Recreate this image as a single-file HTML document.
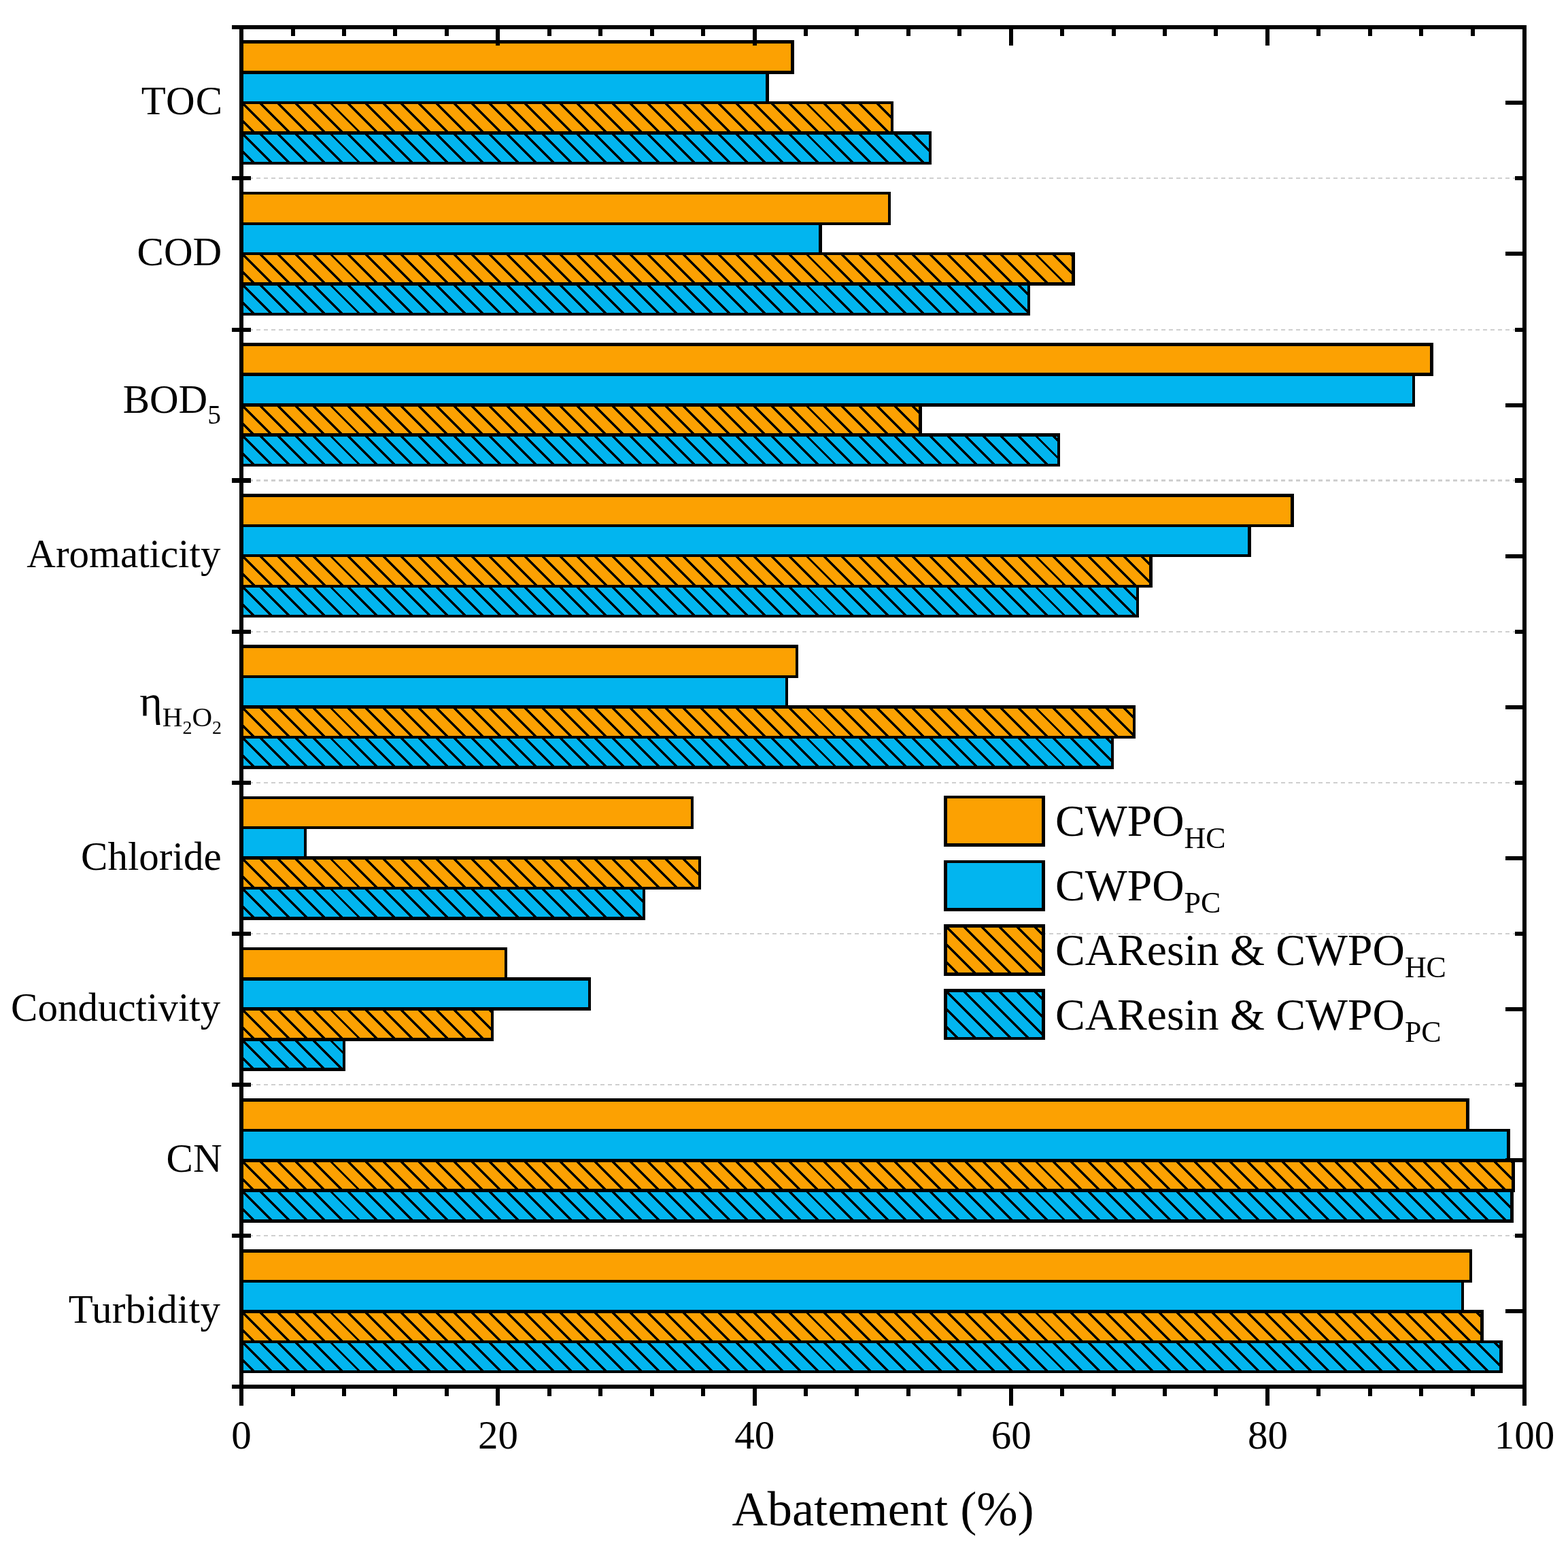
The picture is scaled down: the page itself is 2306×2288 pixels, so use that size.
<!DOCTYPE html>
<html lang="en"><head><meta charset="utf-8"><title>Abatement (%)</title>
<style>html,body{margin:0;padding:0;background:#fff}body{width:2306px;height:2288px;overflow:hidden}svg{display:block}text{font-family:"Liberation Serif","Times New Roman",serif;fill:#000}</style>
</head><body>
<svg width="2306" height="2288" viewBox="0 0 2306 2288">
<rect width="2306" height="2288" fill="#fff"/>
<g shape-rendering="crispEdges" stroke="#CFCFCF" stroke-dasharray="6 5">
<line x1="355" y1="262" x2="2239" y2="262" stroke-width="2"/>
<line x1="355" y1="485" x2="2239" y2="485" stroke-width="2"/>
<line x1="355" y1="706.5" x2="2239" y2="706.5" stroke-width="3"/>
<line x1="355" y1="929" x2="2239" y2="929" stroke-width="2"/>
<line x1="355" y1="1151" x2="2239" y2="1151" stroke-width="2"/>
<line x1="355" y1="1373" x2="2239" y2="1373" stroke-width="2"/>
<line x1="355" y1="1595" x2="2239" y2="1595" stroke-width="2"/>
<line x1="355" y1="1817" x2="2239" y2="1817" stroke-width="2"/>
</g>
<g shape-rendering="crispEdges">
<rect x="355" y="59" width="813" height="50" fill="#000"/>
<rect x="355" y="64" width="808" height="40" fill="#FCA102"/>
<rect x="355" y="104" width="776" height="49" fill="#000"/>
<rect x="355" y="109" width="771" height="40" fill="#02B5EF"/>
<rect x="355" y="149" width="959" height="49" fill="#000"/>
<rect x="355" y="153" width="955" height="40" fill="#FCA102"/>
<clipPath id="c1"><rect x="355" y="153" width="955" height="40"/></clipPath>
<path clip-path="url(#c1)" d="M300.02 147L352.02 199M325.95 147L377.95 199M351.88 147L403.88 199M377.8 147L429.8 199M403.73 147L455.73 199M429.65 147L481.65 199M455.58 147L507.58 199M481.5 147L533.5 199M507.42 147L559.42 199M533.35 147L585.35 199M559.27 147L611.27 199M585.2 147L637.2 199M611.12 147L663.12 199M637.05 147L689.05 199M662.98 147L714.98 199M688.9 147L740.9 199M714.83 147L766.83 199M740.75 147L792.75 199M766.67 147L818.67 199M792.6 147L844.6 199M818.53 147L870.53 199M844.45 147L896.45 199M870.38 147L922.38 199M896.3 147L948.3 199M922.23 147L974.23 199M948.15 147L1000.15 199M974.08 147L1026.08 199M1000 147L1052 199M1025.92 147L1077.92 199M1051.85 147L1103.85 199M1077.78 147L1129.78 199M1103.7 147L1155.7 199M1129.62 147L1181.62 199M1155.55 147L1207.55 199M1181.48 147L1233.48 199M1207.4 147L1259.4 199M1233.33 147L1285.33 199M1259.25 147L1311.25 199M1285.17 147L1337.17 199M1311.1 147L1363.1 199" stroke="#000" stroke-width="3.5" fill="none" shape-rendering="crispEdges"/>
<rect x="355" y="193" width="1015" height="49" fill="#000"/>
<rect x="355" y="198" width="1011" height="40" fill="#02B5EF"/>
<clipPath id="c2"><rect x="355" y="198" width="1011" height="40"/></clipPath>
<path clip-path="url(#c2)" d="M300.02 192L352.02 244M325.95 192L377.95 244M351.88 192L403.88 244M377.8 192L429.8 244M403.73 192L455.73 244M429.65 192L481.65 244M455.58 192L507.58 244M481.5 192L533.5 244M507.42 192L559.42 244M533.35 192L585.35 244M559.27 192L611.27 244M585.2 192L637.2 244M611.12 192L663.12 244M637.05 192L689.05 244M662.98 192L714.98 244M688.9 192L740.9 244M714.83 192L766.83 244M740.75 192L792.75 244M766.67 192L818.67 244M792.6 192L844.6 244M818.53 192L870.53 244M844.45 192L896.45 244M870.38 192L922.38 244M896.3 192L948.3 244M922.23 192L974.23 244M948.15 192L1000.15 244M974.08 192L1026.08 244M1000 192L1052 244M1025.92 192L1077.92 244M1051.85 192L1103.85 244M1077.78 192L1129.78 244M1103.7 192L1155.7 244M1129.62 192L1181.62 244M1155.55 192L1207.55 244M1181.48 192L1233.48 244M1207.4 192L1259.4 244M1233.33 192L1285.33 244M1259.25 192L1311.25 244M1285.17 192L1337.17 244M1311.1 192L1363.1 244M1337.03 192L1389.03 244M1362.95 192L1414.95 244" stroke="#000" stroke-width="3.5" fill="none" shape-rendering="crispEdges"/>
<rect x="355" y="282" width="955" height="49" fill="#000"/>
<rect x="355" y="286" width="951" height="41" fill="#FCA102"/>
<rect x="355" y="327" width="854" height="48" fill="#000"/>
<rect x="355" y="331" width="849" height="40" fill="#02B5EF"/>
<rect x="355" y="371" width="1226" height="49" fill="#000"/>
<rect x="355" y="375" width="1221" height="40" fill="#FCA102"/>
<clipPath id="c3"><rect x="355" y="375" width="1221" height="40"/></clipPath>
<path clip-path="url(#c3)" d="M300.02 369L352.02 421M325.95 369L377.95 421M351.88 369L403.88 421M377.8 369L429.8 421M403.73 369L455.73 421M429.65 369L481.65 421M455.58 369L507.58 421M481.5 369L533.5 421M507.42 369L559.42 421M533.35 369L585.35 421M559.27 369L611.27 421M585.2 369L637.2 421M611.12 369L663.12 421M637.05 369L689.05 421M662.98 369L714.98 421M688.9 369L740.9 421M714.83 369L766.83 421M740.75 369L792.75 421M766.67 369L818.67 421M792.6 369L844.6 421M818.53 369L870.53 421M844.45 369L896.45 421M870.38 369L922.38 421M896.3 369L948.3 421M922.23 369L974.23 421M948.15 369L1000.15 421M974.08 369L1026.08 421M1000 369L1052 421M1025.92 369L1077.92 421M1051.85 369L1103.85 421M1077.78 369L1129.78 421M1103.7 369L1155.7 421M1129.62 369L1181.62 421M1155.55 369L1207.55 421M1181.48 369L1233.48 421M1207.4 369L1259.4 421M1233.33 369L1285.33 421M1259.25 369L1311.25 421M1285.17 369L1337.17 421M1311.1 369L1363.1 421M1337.03 369L1389.03 421M1362.95 369L1414.95 421M1388.88 369L1440.88 421M1414.8 369L1466.8 421M1440.72 369L1492.72 421M1466.65 369L1518.65 421M1492.58 369L1544.58 421M1518.5 369L1570.5 421M1544.42 369L1596.42 421M1570.35 369L1622.35 421" stroke="#000" stroke-width="3.5" fill="none" shape-rendering="crispEdges"/>
<rect x="355" y="415" width="1160" height="49" fill="#000"/>
<rect x="355" y="420" width="1156" height="40" fill="#02B5EF"/>
<clipPath id="c4"><rect x="355" y="420" width="1156" height="40"/></clipPath>
<path clip-path="url(#c4)" d="M300.02 414L352.02 466M325.95 414L377.95 466M351.88 414L403.88 466M377.8 414L429.8 466M403.73 414L455.73 466M429.65 414L481.65 466M455.58 414L507.58 466M481.5 414L533.5 466M507.42 414L559.42 466M533.35 414L585.35 466M559.27 414L611.27 466M585.2 414L637.2 466M611.12 414L663.12 466M637.05 414L689.05 466M662.98 414L714.98 466M688.9 414L740.9 466M714.83 414L766.83 466M740.75 414L792.75 466M766.67 414L818.67 466M792.6 414L844.6 466M818.53 414L870.53 466M844.45 414L896.45 466M870.38 414L922.38 466M896.3 414L948.3 466M922.23 414L974.23 466M948.15 414L1000.15 466M974.08 414L1026.08 466M1000 414L1052 466M1025.92 414L1077.92 466M1051.85 414L1103.85 466M1077.78 414L1129.78 466M1103.7 414L1155.7 466M1129.62 414L1181.62 466M1155.55 414L1207.55 466M1181.48 414L1233.48 466M1207.4 414L1259.4 466M1233.33 414L1285.33 466M1259.25 414L1311.25 466M1285.17 414L1337.17 466M1311.1 414L1363.1 466M1337.03 414L1389.03 466M1362.95 414L1414.95 466M1388.88 414L1440.88 466M1414.8 414L1466.8 466M1440.72 414L1492.72 466M1466.65 414L1518.65 466M1492.58 414L1544.58 466" stroke="#000" stroke-width="3.5" fill="none" shape-rendering="crispEdges"/>
<rect x="355" y="504" width="1753" height="49" fill="#000"/>
<rect x="355" y="509" width="1748" height="39" fill="#FCA102"/>
<rect x="355" y="548" width="1726" height="50" fill="#000"/>
<rect x="355" y="553" width="1722" height="40" fill="#02B5EF"/>
<rect x="355" y="593" width="1001" height="49" fill="#000"/>
<rect x="355" y="598" width="996" height="39" fill="#FCA102"/>
<clipPath id="c5"><rect x="355" y="598" width="996" height="39"/></clipPath>
<path clip-path="url(#c5)" d="M300.02 592L351.02 643M325.95 592L376.95 643M351.88 592L402.88 643M377.8 592L428.8 643M403.73 592L454.73 643M429.65 592L480.65 643M455.58 592L506.58 643M481.5 592L532.5 643M507.42 592L558.42 643M533.35 592L584.35 643M559.27 592L610.27 643M585.2 592L636.2 643M611.12 592L662.12 643M637.05 592L688.05 643M662.98 592L713.98 643M688.9 592L739.9 643M714.83 592L765.83 643M740.75 592L791.75 643M766.67 592L817.67 643M792.6 592L843.6 643M818.53 592L869.53 643M844.45 592L895.45 643M870.38 592L921.38 643M896.3 592L947.3 643M922.23 592L973.23 643M948.15 592L999.15 643M974.08 592L1025.08 643M1000 592L1051 643M1025.92 592L1076.92 643M1051.85 592L1102.85 643M1077.78 592L1128.78 643M1103.7 592L1154.7 643M1129.62 592L1180.62 643M1155.55 592L1206.55 643M1181.48 592L1232.48 643M1207.4 592L1258.4 643M1233.33 592L1284.33 643M1259.25 592L1310.25 643M1285.17 592L1336.17 643M1311.1 592L1362.1 643M1337.03 592L1388.03 643" stroke="#000" stroke-width="3.5" fill="none" shape-rendering="crispEdges"/>
<rect x="355" y="637" width="1204" height="49" fill="#000"/>
<rect x="355" y="642" width="1200" height="40" fill="#02B5EF"/>
<clipPath id="c6"><rect x="355" y="642" width="1200" height="40"/></clipPath>
<path clip-path="url(#c6)" d="M300.02 636L352.02 688M325.95 636L377.95 688M351.88 636L403.88 688M377.8 636L429.8 688M403.73 636L455.73 688M429.65 636L481.65 688M455.58 636L507.58 688M481.5 636L533.5 688M507.42 636L559.42 688M533.35 636L585.35 688M559.27 636L611.27 688M585.2 636L637.2 688M611.12 636L663.12 688M637.05 636L689.05 688M662.98 636L714.98 688M688.9 636L740.9 688M714.83 636L766.83 688M740.75 636L792.75 688M766.67 636L818.67 688M792.6 636L844.6 688M818.53 636L870.53 688M844.45 636L896.45 688M870.38 636L922.38 688M896.3 636L948.3 688M922.23 636L974.23 688M948.15 636L1000.15 688M974.08 636L1026.08 688M1000 636L1052 688M1025.92 636L1077.92 688M1051.85 636L1103.85 688M1077.78 636L1129.78 688M1103.7 636L1155.7 688M1129.62 636L1181.62 688M1155.55 636L1207.55 688M1181.48 636L1233.48 688M1207.4 636L1259.4 688M1233.33 636L1285.33 688M1259.25 636L1311.25 688M1285.17 636L1337.17 688M1311.1 636L1363.1 688M1337.03 636L1389.03 688M1362.95 636L1414.95 688M1388.88 636L1440.88 688M1414.8 636L1466.8 688M1440.72 636L1492.72 688M1466.65 636L1518.65 688M1492.58 636L1544.58 688M1518.5 636L1570.5 688M1544.42 636L1596.42 688" stroke="#000" stroke-width="3.5" fill="none" shape-rendering="crispEdges"/>
<rect x="355" y="726" width="1548" height="49" fill="#000"/>
<rect x="355" y="731" width="1543" height="40" fill="#FCA102"/>
<rect x="355" y="771" width="1485" height="48" fill="#000"/>
<rect x="355" y="775" width="1480" height="40" fill="#02B5EF"/>
<rect x="355" y="815" width="1340" height="49" fill="#000"/>
<rect x="355" y="819" width="1335" height="41" fill="#FCA102"/>
<clipPath id="c7"><rect x="355" y="819" width="1335" height="41"/></clipPath>
<path clip-path="url(#c7)" d="M300.02 813L353.02 866M325.95 813L378.95 866M351.88 813L404.88 866M377.8 813L430.8 866M403.73 813L456.73 866M429.65 813L482.65 866M455.58 813L508.58 866M481.5 813L534.5 866M507.42 813L560.42 866M533.35 813L586.35 866M559.27 813L612.27 866M585.2 813L638.2 866M611.12 813L664.12 866M637.05 813L690.05 866M662.98 813L715.98 866M688.9 813L741.9 866M714.83 813L767.83 866M740.75 813L793.75 866M766.67 813L819.67 866M792.6 813L845.6 866M818.53 813L871.53 866M844.45 813L897.45 866M870.38 813L923.38 866M896.3 813L949.3 866M922.23 813L975.23 866M948.15 813L1001.15 866M974.08 813L1027.08 866M1000 813L1053 866M1025.92 813L1078.92 866M1051.85 813L1104.85 866M1077.78 813L1130.78 866M1103.7 813L1156.7 866M1129.62 813L1182.62 866M1155.55 813L1208.55 866M1181.48 813L1234.48 866M1207.4 813L1260.4 866M1233.33 813L1286.33 866M1259.25 813L1312.25 866M1285.17 813L1338.17 866M1311.1 813L1364.1 866M1337.03 813L1390.03 866M1362.95 813L1415.95 866M1388.88 813L1441.88 866M1414.8 813L1467.8 866M1440.72 813L1493.72 866M1466.65 813L1519.65 866M1492.58 813L1545.58 866M1518.5 813L1571.5 866M1544.42 813L1597.42 866M1570.35 813L1623.35 866M1596.28 813L1649.28 866M1622.2 813L1675.2 866M1648.12 813L1701.12 866M1674.05 813L1727.05 866" stroke="#000" stroke-width="3.5" fill="none" shape-rendering="crispEdges"/>
<rect x="355" y="860" width="1320" height="48" fill="#000"/>
<rect x="355" y="864" width="1316" height="40" fill="#02B5EF"/>
<clipPath id="c8"><rect x="355" y="864" width="1316" height="40"/></clipPath>
<path clip-path="url(#c8)" d="M300.02 858L352.02 910M325.95 858L377.95 910M351.88 858L403.88 910M377.8 858L429.8 910M403.73 858L455.73 910M429.65 858L481.65 910M455.58 858L507.58 910M481.5 858L533.5 910M507.42 858L559.42 910M533.35 858L585.35 910M559.27 858L611.27 910M585.2 858L637.2 910M611.12 858L663.12 910M637.05 858L689.05 910M662.98 858L714.98 910M688.9 858L740.9 910M714.83 858L766.83 910M740.75 858L792.75 910M766.67 858L818.67 910M792.6 858L844.6 910M818.53 858L870.53 910M844.45 858L896.45 910M870.38 858L922.38 910M896.3 858L948.3 910M922.23 858L974.23 910M948.15 858L1000.15 910M974.08 858L1026.08 910M1000 858L1052 910M1025.92 858L1077.92 910M1051.85 858L1103.85 910M1077.78 858L1129.78 910M1103.7 858L1155.7 910M1129.62 858L1181.62 910M1155.55 858L1207.55 910M1181.48 858L1233.48 910M1207.4 858L1259.4 910M1233.33 858L1285.33 910M1259.25 858L1311.25 910M1285.17 858L1337.17 910M1311.1 858L1363.1 910M1337.03 858L1389.03 910M1362.95 858L1414.95 910M1388.88 858L1440.88 910M1414.8 858L1466.8 910M1440.72 858L1492.72 910M1466.65 858L1518.65 910M1492.58 858L1544.58 910M1518.5 858L1570.5 910M1544.42 858L1596.42 910M1570.35 858L1622.35 910M1596.28 858L1648.28 910M1622.2 858L1674.2 910M1648.12 858L1700.12 910M1674.05 858L1726.05 910" stroke="#000" stroke-width="3.5" fill="none" shape-rendering="crispEdges"/>
<rect x="355" y="948" width="819" height="49" fill="#000"/>
<rect x="355" y="953" width="815" height="40" fill="#FCA102"/>
<rect x="355" y="993" width="804" height="49" fill="#000"/>
<rect x="355" y="997" width="800" height="40" fill="#02B5EF"/>
<rect x="355" y="1037" width="1315" height="49" fill="#000"/>
<rect x="355" y="1042" width="1311" height="40" fill="#FCA102"/>
<clipPath id="c9"><rect x="355" y="1042" width="1311" height="40"/></clipPath>
<path clip-path="url(#c9)" d="M300.02 1036L352.02 1088M325.95 1036L377.95 1088M351.88 1036L403.88 1088M377.8 1036L429.8 1088M403.73 1036L455.73 1088M429.65 1036L481.65 1088M455.58 1036L507.58 1088M481.5 1036L533.5 1088M507.42 1036L559.42 1088M533.35 1036L585.35 1088M559.27 1036L611.27 1088M585.2 1036L637.2 1088M611.12 1036L663.12 1088M637.05 1036L689.05 1088M662.98 1036L714.98 1088M688.9 1036L740.9 1088M714.83 1036L766.83 1088M740.75 1036L792.75 1088M766.67 1036L818.67 1088M792.6 1036L844.6 1088M818.53 1036L870.53 1088M844.45 1036L896.45 1088M870.38 1036L922.38 1088M896.3 1036L948.3 1088M922.23 1036L974.23 1088M948.15 1036L1000.15 1088M974.08 1036L1026.08 1088M1000 1036L1052 1088M1025.92 1036L1077.92 1088M1051.85 1036L1103.85 1088M1077.78 1036L1129.78 1088M1103.7 1036L1155.7 1088M1129.62 1036L1181.62 1088M1155.55 1036L1207.55 1088M1181.48 1036L1233.48 1088M1207.4 1036L1259.4 1088M1233.33 1036L1285.33 1088M1259.25 1036L1311.25 1088M1285.17 1036L1337.17 1088M1311.1 1036L1363.1 1088M1337.03 1036L1389.03 1088M1362.95 1036L1414.95 1088M1388.88 1036L1440.88 1088M1414.8 1036L1466.8 1088M1440.72 1036L1492.72 1088M1466.65 1036L1518.65 1088M1492.58 1036L1544.58 1088M1518.5 1036L1570.5 1088M1544.42 1036L1596.42 1088M1570.35 1036L1622.35 1088M1596.28 1036L1648.28 1088M1622.2 1036L1674.2 1088M1648.12 1036L1700.12 1088" stroke="#000" stroke-width="3.5" fill="none" shape-rendering="crispEdges"/>
<rect x="355" y="1082" width="1283" height="49" fill="#000"/>
<rect x="355" y="1086" width="1279" height="40" fill="#02B5EF"/>
<clipPath id="c10"><rect x="355" y="1086" width="1279" height="40"/></clipPath>
<path clip-path="url(#c10)" d="M300.02 1080L352.02 1132M325.95 1080L377.95 1132M351.88 1080L403.88 1132M377.8 1080L429.8 1132M403.73 1080L455.73 1132M429.65 1080L481.65 1132M455.58 1080L507.58 1132M481.5 1080L533.5 1132M507.42 1080L559.42 1132M533.35 1080L585.35 1132M559.27 1080L611.27 1132M585.2 1080L637.2 1132M611.12 1080L663.12 1132M637.05 1080L689.05 1132M662.98 1080L714.98 1132M688.9 1080L740.9 1132M714.83 1080L766.83 1132M740.75 1080L792.75 1132M766.67 1080L818.67 1132M792.6 1080L844.6 1132M818.53 1080L870.53 1132M844.45 1080L896.45 1132M870.38 1080L922.38 1132M896.3 1080L948.3 1132M922.23 1080L974.23 1132M948.15 1080L1000.15 1132M974.08 1080L1026.08 1132M1000 1080L1052 1132M1025.92 1080L1077.92 1132M1051.85 1080L1103.85 1132M1077.78 1080L1129.78 1132M1103.7 1080L1155.7 1132M1129.62 1080L1181.62 1132M1155.55 1080L1207.55 1132M1181.48 1080L1233.48 1132M1207.4 1080L1259.4 1132M1233.33 1080L1285.33 1132M1259.25 1080L1311.25 1132M1285.17 1080L1337.17 1132M1311.1 1080L1363.1 1132M1337.03 1080L1389.03 1132M1362.95 1080L1414.95 1132M1388.88 1080L1440.88 1132M1414.8 1080L1466.8 1132M1440.72 1080L1492.72 1132M1466.65 1080L1518.65 1132M1492.58 1080L1544.58 1132M1518.5 1080L1570.5 1132M1544.42 1080L1596.42 1132M1570.35 1080L1622.35 1132M1596.28 1080L1648.28 1132M1622.2 1080L1674.2 1132" stroke="#000" stroke-width="3.5" fill="none" shape-rendering="crispEdges"/>
<rect x="355" y="1171" width="665" height="48" fill="#000"/>
<rect x="355" y="1175" width="661" height="40" fill="#FCA102"/>
<rect x="355" y="1215" width="96" height="49" fill="#000"/>
<rect x="355" y="1219" width="92" height="40" fill="#02B5EF"/>
<rect x="355" y="1259" width="676" height="49" fill="#000"/>
<rect x="355" y="1264" width="672" height="40" fill="#FCA102"/>
<clipPath id="c11"><rect x="355" y="1264" width="672" height="40"/></clipPath>
<path clip-path="url(#c11)" d="M300.02 1258L352.02 1310M325.95 1258L377.95 1310M351.88 1258L403.88 1310M377.8 1258L429.8 1310M403.73 1258L455.73 1310M429.65 1258L481.65 1310M455.58 1258L507.58 1310M481.5 1258L533.5 1310M507.42 1258L559.42 1310M533.35 1258L585.35 1310M559.27 1258L611.27 1310M585.2 1258L637.2 1310M611.12 1258L663.12 1310M637.05 1258L689.05 1310M662.98 1258L714.98 1310M688.9 1258L740.9 1310M714.83 1258L766.83 1310M740.75 1258L792.75 1310M766.67 1258L818.67 1310M792.6 1258L844.6 1310M818.53 1258L870.53 1310M844.45 1258L896.45 1310M870.38 1258L922.38 1310M896.3 1258L948.3 1310M922.23 1258L974.23 1310M948.15 1258L1000.15 1310M974.08 1258L1026.08 1310M1000 1258L1052 1310M1025.92 1258L1077.92 1310" stroke="#000" stroke-width="3.5" fill="none" shape-rendering="crispEdges"/>
<rect x="355" y="1304" width="594" height="49" fill="#000"/>
<rect x="355" y="1308" width="590" height="40" fill="#02B5EF"/>
<clipPath id="c12"><rect x="355" y="1308" width="590" height="40"/></clipPath>
<path clip-path="url(#c12)" d="M300.02 1302L352.02 1354M325.95 1302L377.95 1354M351.88 1302L403.88 1354M377.8 1302L429.8 1354M403.73 1302L455.73 1354M429.65 1302L481.65 1354M455.58 1302L507.58 1354M481.5 1302L533.5 1354M507.42 1302L559.42 1354M533.35 1302L585.35 1354M559.27 1302L611.27 1354M585.2 1302L637.2 1354M611.12 1302L663.12 1354M637.05 1302L689.05 1354M662.98 1302L714.98 1354M688.9 1302L740.9 1354M714.83 1302L766.83 1354M740.75 1302L792.75 1354M766.67 1302L818.67 1354M792.6 1302L844.6 1354M818.53 1302L870.53 1354M844.45 1302L896.45 1354M870.38 1302L922.38 1354M896.3 1302L948.3 1354M922.23 1302L974.23 1354M948.15 1302L1000.15 1354" stroke="#000" stroke-width="3.5" fill="none" shape-rendering="crispEdges"/>
<rect x="355" y="1393" width="391" height="49" fill="#000"/>
<rect x="355" y="1397" width="387" height="40" fill="#FCA102"/>
<rect x="355" y="1437" width="514" height="49" fill="#000"/>
<rect x="355" y="1442" width="510" height="39" fill="#02B5EF"/>
<rect x="355" y="1481" width="371" height="50" fill="#000"/>
<rect x="355" y="1486" width="367" height="40" fill="#FCA102"/>
<clipPath id="c13"><rect x="355" y="1486" width="367" height="40"/></clipPath>
<path clip-path="url(#c13)" d="M300.02 1480L352.02 1532M325.95 1480L377.95 1532M351.88 1480L403.88 1532M377.8 1480L429.8 1532M403.73 1480L455.73 1532M429.65 1480L481.65 1532M455.58 1480L507.58 1532M481.5 1480L533.5 1532M507.42 1480L559.42 1532M533.35 1480L585.35 1532M559.27 1480L611.27 1532M585.2 1480L637.2 1532M611.12 1480L663.12 1532M637.05 1480L689.05 1532M662.98 1480L714.98 1532M688.9 1480L740.9 1532M714.83 1480L766.83 1532" stroke="#000" stroke-width="3.5" fill="none" shape-rendering="crispEdges"/>
<rect x="355" y="1526" width="153" height="49" fill="#000"/>
<rect x="355" y="1531" width="149" height="39" fill="#02B5EF"/>
<clipPath id="c14"><rect x="355" y="1531" width="149" height="39"/></clipPath>
<path clip-path="url(#c14)" d="M300.02 1525L351.02 1576M325.95 1525L376.95 1576M351.88 1525L402.88 1576M377.8 1525L428.8 1576M403.73 1525L454.73 1576M429.65 1525L480.65 1576M455.58 1525L506.58 1576M481.5 1525L532.5 1576M507.42 1525L558.42 1576" stroke="#000" stroke-width="3.5" fill="none" shape-rendering="crispEdges"/>
<rect x="355" y="1615" width="1806" height="49" fill="#000"/>
<rect x="355" y="1620" width="1801" height="40" fill="#FCA102"/>
<rect x="355" y="1660" width="1866" height="49" fill="#000"/>
<rect x="355" y="1664" width="1861" height="40" fill="#02B5EF"/>
<rect x="355" y="1704" width="1873" height="49" fill="#000"/>
<rect x="355" y="1709" width="1868" height="39" fill="#FCA102"/>
<clipPath id="c15"><rect x="355" y="1709" width="1868" height="39"/></clipPath>
<path clip-path="url(#c15)" d="M300.02 1703L351.02 1754M325.95 1703L376.95 1754M351.88 1703L402.88 1754M377.8 1703L428.8 1754M403.73 1703L454.73 1754M429.65 1703L480.65 1754M455.58 1703L506.58 1754M481.5 1703L532.5 1754M507.42 1703L558.42 1754M533.35 1703L584.35 1754M559.27 1703L610.27 1754M585.2 1703L636.2 1754M611.12 1703L662.12 1754M637.05 1703L688.05 1754M662.98 1703L713.98 1754M688.9 1703L739.9 1754M714.83 1703L765.83 1754M740.75 1703L791.75 1754M766.67 1703L817.67 1754M792.6 1703L843.6 1754M818.53 1703L869.53 1754M844.45 1703L895.45 1754M870.38 1703L921.38 1754M896.3 1703L947.3 1754M922.23 1703L973.23 1754M948.15 1703L999.15 1754M974.08 1703L1025.08 1754M1000 1703L1051 1754M1025.92 1703L1076.92 1754M1051.85 1703L1102.85 1754M1077.78 1703L1128.78 1754M1103.7 1703L1154.7 1754M1129.62 1703L1180.62 1754M1155.55 1703L1206.55 1754M1181.48 1703L1232.48 1754M1207.4 1703L1258.4 1754M1233.33 1703L1284.33 1754M1259.25 1703L1310.25 1754M1285.17 1703L1336.17 1754M1311.1 1703L1362.1 1754M1337.03 1703L1388.03 1754M1362.95 1703L1413.95 1754M1388.88 1703L1439.88 1754M1414.8 1703L1465.8 1754M1440.72 1703L1491.72 1754M1466.65 1703L1517.65 1754M1492.58 1703L1543.58 1754M1518.5 1703L1569.5 1754M1544.42 1703L1595.42 1754M1570.35 1703L1621.35 1754M1596.28 1703L1647.28 1754M1622.2 1703L1673.2 1754M1648.12 1703L1699.12 1754M1674.05 1703L1725.05 1754M1699.97 1703L1750.97 1754M1725.9 1703L1776.9 1754M1751.83 1703L1802.83 1754M1777.75 1703L1828.75 1754M1803.67 1703L1854.67 1754M1829.6 1703L1880.6 1754M1855.53 1703L1906.53 1754M1881.45 1703L1932.45 1754M1907.38 1703L1958.38 1754M1933.3 1703L1984.3 1754M1959.22 1703L2010.22 1754M1985.15 1703L2036.15 1754M2011.08 1703L2062.07 1754M2037 1703L2088 1754M2062.93 1703L2113.93 1754M2088.85 1703L2139.85 1754M2114.78 1703L2165.78 1754M2140.7 1703L2191.7 1754M2166.62 1703L2217.62 1754M2192.55 1703L2243.55 1754M2218.47 1703L2269.47 1754" stroke="#000" stroke-width="3.5" fill="none" shape-rendering="crispEdges"/>
<rect x="355" y="1748" width="1871" height="50" fill="#000"/>
<rect x="355" y="1753" width="1866" height="40" fill="#02B5EF"/>
<clipPath id="c16"><rect x="355" y="1753" width="1866" height="40"/></clipPath>
<path clip-path="url(#c16)" d="M300.02 1747L352.02 1799M325.95 1747L377.95 1799M351.88 1747L403.88 1799M377.8 1747L429.8 1799M403.73 1747L455.73 1799M429.65 1747L481.65 1799M455.58 1747L507.58 1799M481.5 1747L533.5 1799M507.42 1747L559.42 1799M533.35 1747L585.35 1799M559.27 1747L611.27 1799M585.2 1747L637.2 1799M611.12 1747L663.12 1799M637.05 1747L689.05 1799M662.98 1747L714.98 1799M688.9 1747L740.9 1799M714.83 1747L766.83 1799M740.75 1747L792.75 1799M766.67 1747L818.67 1799M792.6 1747L844.6 1799M818.53 1747L870.53 1799M844.45 1747L896.45 1799M870.38 1747L922.38 1799M896.3 1747L948.3 1799M922.23 1747L974.23 1799M948.15 1747L1000.15 1799M974.08 1747L1026.08 1799M1000 1747L1052 1799M1025.92 1747L1077.92 1799M1051.85 1747L1103.85 1799M1077.78 1747L1129.78 1799M1103.7 1747L1155.7 1799M1129.62 1747L1181.62 1799M1155.55 1747L1207.55 1799M1181.48 1747L1233.48 1799M1207.4 1747L1259.4 1799M1233.33 1747L1285.33 1799M1259.25 1747L1311.25 1799M1285.17 1747L1337.17 1799M1311.1 1747L1363.1 1799M1337.03 1747L1389.03 1799M1362.95 1747L1414.95 1799M1388.88 1747L1440.88 1799M1414.8 1747L1466.8 1799M1440.72 1747L1492.72 1799M1466.65 1747L1518.65 1799M1492.58 1747L1544.58 1799M1518.5 1747L1570.5 1799M1544.42 1747L1596.42 1799M1570.35 1747L1622.35 1799M1596.28 1747L1648.28 1799M1622.2 1747L1674.2 1799M1648.12 1747L1700.12 1799M1674.05 1747L1726.05 1799M1699.97 1747L1751.97 1799M1725.9 1747L1777.9 1799M1751.83 1747L1803.83 1799M1777.75 1747L1829.75 1799M1803.67 1747L1855.67 1799M1829.6 1747L1881.6 1799M1855.53 1747L1907.53 1799M1881.45 1747L1933.45 1799M1907.38 1747L1959.38 1799M1933.3 1747L1985.3 1799M1959.22 1747L2011.22 1799M1985.15 1747L2037.15 1799M2011.08 1747L2063.07 1799M2037 1747L2089 1799M2062.93 1747L2114.93 1799M2088.85 1747L2140.85 1799M2114.78 1747L2166.78 1799M2140.7 1747L2192.7 1799M2166.62 1747L2218.62 1799M2192.55 1747L2244.55 1799M2218.47 1747L2270.47 1799" stroke="#000" stroke-width="3.5" fill="none" shape-rendering="crispEdges"/>
<rect x="355" y="1837" width="1810" height="49" fill="#000"/>
<rect x="355" y="1842" width="1806" height="40" fill="#FCA102"/>
<rect x="355" y="1882" width="1798" height="49" fill="#000"/>
<rect x="355" y="1886" width="1794" height="40" fill="#02B5EF"/>
<rect x="355" y="1926" width="1827" height="49" fill="#000"/>
<rect x="355" y="1931" width="1822" height="40" fill="#FCA102"/>
<clipPath id="c17"><rect x="355" y="1931" width="1822" height="40"/></clipPath>
<path clip-path="url(#c17)" d="M300.02 1925L352.02 1977M325.95 1925L377.95 1977M351.88 1925L403.88 1977M377.8 1925L429.8 1977M403.73 1925L455.73 1977M429.65 1925L481.65 1977M455.58 1925L507.58 1977M481.5 1925L533.5 1977M507.42 1925L559.42 1977M533.35 1925L585.35 1977M559.27 1925L611.27 1977M585.2 1925L637.2 1977M611.12 1925L663.12 1977M637.05 1925L689.05 1977M662.98 1925L714.98 1977M688.9 1925L740.9 1977M714.83 1925L766.83 1977M740.75 1925L792.75 1977M766.67 1925L818.67 1977M792.6 1925L844.6 1977M818.53 1925L870.53 1977M844.45 1925L896.45 1977M870.38 1925L922.38 1977M896.3 1925L948.3 1977M922.23 1925L974.23 1977M948.15 1925L1000.15 1977M974.08 1925L1026.08 1977M1000 1925L1052 1977M1025.92 1925L1077.92 1977M1051.85 1925L1103.85 1977M1077.78 1925L1129.78 1977M1103.7 1925L1155.7 1977M1129.62 1925L1181.62 1977M1155.55 1925L1207.55 1977M1181.48 1925L1233.48 1977M1207.4 1925L1259.4 1977M1233.33 1925L1285.33 1977M1259.25 1925L1311.25 1977M1285.17 1925L1337.17 1977M1311.1 1925L1363.1 1977M1337.03 1925L1389.03 1977M1362.95 1925L1414.95 1977M1388.88 1925L1440.88 1977M1414.8 1925L1466.8 1977M1440.72 1925L1492.72 1977M1466.65 1925L1518.65 1977M1492.58 1925L1544.58 1977M1518.5 1925L1570.5 1977M1544.42 1925L1596.42 1977M1570.35 1925L1622.35 1977M1596.28 1925L1648.28 1977M1622.2 1925L1674.2 1977M1648.12 1925L1700.12 1977M1674.05 1925L1726.05 1977M1699.97 1925L1751.97 1977M1725.9 1925L1777.9 1977M1751.83 1925L1803.83 1977M1777.75 1925L1829.75 1977M1803.67 1925L1855.67 1977M1829.6 1925L1881.6 1977M1855.53 1925L1907.53 1977M1881.45 1925L1933.45 1977M1907.38 1925L1959.38 1977M1933.3 1925L1985.3 1977M1959.22 1925L2011.22 1977M1985.15 1925L2037.15 1977M2011.08 1925L2063.07 1977M2037 1925L2089 1977M2062.93 1925L2114.93 1977M2088.85 1925L2140.85 1977M2114.78 1925L2166.78 1977M2140.7 1925L2192.7 1977M2166.62 1925L2218.62 1977" stroke="#000" stroke-width="3.5" fill="none" shape-rendering="crispEdges"/>
<rect x="355" y="1971" width="1855" height="48" fill="#000"/>
<rect x="355" y="1975" width="1850" height="40" fill="#02B5EF"/>
<clipPath id="c18"><rect x="355" y="1975" width="1850" height="40"/></clipPath>
<path clip-path="url(#c18)" d="M300.02 1969L352.02 2021M325.95 1969L377.95 2021M351.88 1969L403.88 2021M377.8 1969L429.8 2021M403.73 1969L455.73 2021M429.65 1969L481.65 2021M455.58 1969L507.58 2021M481.5 1969L533.5 2021M507.42 1969L559.42 2021M533.35 1969L585.35 2021M559.27 1969L611.27 2021M585.2 1969L637.2 2021M611.12 1969L663.12 2021M637.05 1969L689.05 2021M662.98 1969L714.98 2021M688.9 1969L740.9 2021M714.83 1969L766.83 2021M740.75 1969L792.75 2021M766.67 1969L818.67 2021M792.6 1969L844.6 2021M818.53 1969L870.53 2021M844.45 1969L896.45 2021M870.38 1969L922.38 2021M896.3 1969L948.3 2021M922.23 1969L974.23 2021M948.15 1969L1000.15 2021M974.08 1969L1026.08 2021M1000 1969L1052 2021M1025.92 1969L1077.92 2021M1051.85 1969L1103.85 2021M1077.78 1969L1129.78 2021M1103.7 1969L1155.7 2021M1129.62 1969L1181.62 2021M1155.55 1969L1207.55 2021M1181.48 1969L1233.48 2021M1207.4 1969L1259.4 2021M1233.33 1969L1285.33 2021M1259.25 1969L1311.25 2021M1285.17 1969L1337.17 2021M1311.1 1969L1363.1 2021M1337.03 1969L1389.03 2021M1362.95 1969L1414.95 2021M1388.88 1969L1440.88 2021M1414.8 1969L1466.8 2021M1440.72 1969L1492.72 2021M1466.65 1969L1518.65 2021M1492.58 1969L1544.58 2021M1518.5 1969L1570.5 2021M1544.42 1969L1596.42 2021M1570.35 1969L1622.35 2021M1596.28 1969L1648.28 2021M1622.2 1969L1674.2 2021M1648.12 1969L1700.12 2021M1674.05 1969L1726.05 2021M1699.97 1969L1751.97 2021M1725.9 1969L1777.9 2021M1751.83 1969L1803.83 2021M1777.75 1969L1829.75 2021M1803.67 1969L1855.67 2021M1829.6 1969L1881.6 2021M1855.53 1969L1907.53 2021M1881.45 1969L1933.45 2021M1907.38 1969L1959.38 2021M1933.3 1969L1985.3 2021M1959.22 1969L2011.22 2021M1985.15 1969L2037.15 2021M2011.08 1969L2063.07 2021M2037 1969L2089 2021M2062.93 1969L2114.93 2021M2088.85 1969L2140.85 2021M2114.78 1969L2166.78 2021M2140.7 1969L2192.7 2021M2166.62 1969L2218.62 2021M2192.55 1969L2244.55 2021" stroke="#000" stroke-width="3.5" fill="none" shape-rendering="crispEdges"/>
</g>
<g shape-rendering="crispEdges" fill="#000">
<rect x="341" y="37" width="1904" height="6" fill="#000"/>
<rect x="341" y="2036" width="1904" height="6" fill="#000"/>
<rect x="352" y="37" width="6" height="2030" fill="#000"/>
<rect x="2239" y="37" width="6" height="2030" fill="#000"/>
<rect x="341" y="259" width="28" height="6" fill="#000"/>
<rect x="2228" y="259" width="11" height="6" fill="#000"/>
<rect x="341" y="482" width="28" height="6" fill="#000"/>
<rect x="2228" y="482" width="11" height="6" fill="#000"/>
<rect x="341" y="703" width="28" height="7" fill="#000"/>
<rect x="2228" y="703" width="11" height="7" fill="#000"/>
<rect x="341" y="926" width="28" height="6" fill="#000"/>
<rect x="2228" y="926" width="11" height="6" fill="#000"/>
<rect x="341" y="1148" width="28" height="6" fill="#000"/>
<rect x="2228" y="1148" width="11" height="6" fill="#000"/>
<rect x="341" y="1370" width="28" height="6" fill="#000"/>
<rect x="2228" y="1370" width="11" height="6" fill="#000"/>
<rect x="341" y="1592" width="28" height="6" fill="#000"/>
<rect x="2228" y="1592" width="11" height="6" fill="#000"/>
<rect x="341" y="1814" width="28" height="6" fill="#000"/>
<rect x="2228" y="1814" width="11" height="6" fill="#000"/>
<rect x="2214" y="148" width="25" height="6" fill="#000"/>
<rect x="2214" y="370" width="25" height="6" fill="#000"/>
<rect x="2214" y="593" width="25" height="6" fill="#000"/>
<rect x="2214" y="815" width="25" height="6" fill="#000"/>
<rect x="2214" y="1037" width="25" height="6" fill="#000"/>
<rect x="2214" y="1259" width="25" height="6" fill="#000"/>
<rect x="2214" y="1481" width="25" height="6" fill="#000"/>
<rect x="2214" y="1703" width="25" height="6" fill="#000"/>
<rect x="2214" y="1925" width="25" height="6" fill="#000"/>
<rect x="428" y="43" width="6" height="10" fill="#000"/>
<rect x="428" y="2042" width="6" height="11" fill="#000"/>
<rect x="503" y="43" width="6" height="10" fill="#000"/>
<rect x="503" y="2042" width="6" height="11" fill="#000"/>
<rect x="578" y="43" width="6" height="10" fill="#000"/>
<rect x="578" y="2042" width="6" height="11" fill="#000"/>
<rect x="654" y="43" width="6" height="10" fill="#000"/>
<rect x="654" y="2042" width="6" height="11" fill="#000"/>
<rect x="729" y="43" width="6" height="24" fill="#000"/>
<rect x="729" y="2042" width="6" height="25" fill="#000"/>
<rect x="805" y="43" width="6" height="10" fill="#000"/>
<rect x="805" y="2042" width="6" height="11" fill="#000"/>
<rect x="880" y="43" width="6" height="10" fill="#000"/>
<rect x="880" y="2042" width="6" height="11" fill="#000"/>
<rect x="956" y="43" width="6" height="10" fill="#000"/>
<rect x="956" y="2042" width="6" height="11" fill="#000"/>
<rect x="1031" y="43" width="6" height="10" fill="#000"/>
<rect x="1031" y="2042" width="6" height="11" fill="#000"/>
<rect x="1107" y="43" width="6" height="24" fill="#000"/>
<rect x="1107" y="2042" width="6" height="25" fill="#000"/>
<rect x="1182" y="43" width="6" height="10" fill="#000"/>
<rect x="1182" y="2042" width="6" height="11" fill="#000"/>
<rect x="1257" y="43" width="6" height="10" fill="#000"/>
<rect x="1257" y="2042" width="6" height="11" fill="#000"/>
<rect x="1333" y="43" width="6" height="10" fill="#000"/>
<rect x="1333" y="2042" width="6" height="11" fill="#000"/>
<rect x="1408" y="43" width="6" height="10" fill="#000"/>
<rect x="1408" y="2042" width="6" height="11" fill="#000"/>
<rect x="1484" y="43" width="6" height="24" fill="#000"/>
<rect x="1484" y="2042" width="6" height="25" fill="#000"/>
<rect x="1559" y="43" width="6" height="10" fill="#000"/>
<rect x="1559" y="2042" width="6" height="11" fill="#000"/>
<rect x="1635" y="43" width="6" height="10" fill="#000"/>
<rect x="1635" y="2042" width="6" height="11" fill="#000"/>
<rect x="1710" y="43" width="6" height="10" fill="#000"/>
<rect x="1710" y="2042" width="6" height="11" fill="#000"/>
<rect x="1785" y="43" width="6" height="10" fill="#000"/>
<rect x="1785" y="2042" width="6" height="11" fill="#000"/>
<rect x="1861" y="43" width="6" height="24" fill="#000"/>
<rect x="1861" y="2042" width="6" height="25" fill="#000"/>
<rect x="1936" y="43" width="6" height="10" fill="#000"/>
<rect x="1936" y="2042" width="6" height="11" fill="#000"/>
<rect x="2012" y="43" width="6" height="10" fill="#000"/>
<rect x="2012" y="2042" width="6" height="11" fill="#000"/>
<rect x="2087" y="43" width="6" height="10" fill="#000"/>
<rect x="2087" y="2042" width="6" height="11" fill="#000"/>
<rect x="2163" y="43" width="6" height="10" fill="#000"/>
<rect x="2163" y="2042" width="6" height="11" fill="#000"/>
</g>
<g shape-rendering="crispEdges">
<rect x="1388" y="1170" width="149" height="75" fill="#000"/>
<rect x="1393" y="1174" width="139" height="66" fill="#FCA102"/>
<rect x="1388" y="1265" width="149" height="75" fill="#000"/>
<rect x="1393" y="1269" width="139" height="66" fill="#02B5EF"/>
<rect x="1388" y="1359" width="149" height="76" fill="#000"/>
<rect x="1393" y="1364" width="139" height="66" fill="#FCA102"/>
<clipPath id="c19"><rect x="1393" y="1364" width="139" height="66"/></clipPath>
<path clip-path="url(#c19)" d="M1309.32 1358L1387.32 1436M1335.25 1358L1413.25 1436M1361.17 1358L1439.17 1436M1387.1 1358L1465.1 1436M1413.02 1358L1491.02 1436M1438.95 1358L1516.95 1436M1464.88 1358L1542.88 1436M1490.8 1358L1568.8 1436M1516.72 1358L1594.72 1436" stroke="#000" stroke-width="3.5" fill="none" shape-rendering="crispEdges"/>
<rect x="1388" y="1454" width="149" height="75" fill="#000"/>
<rect x="1393" y="1459" width="139" height="66" fill="#02B5EF"/>
<clipPath id="c20"><rect x="1393" y="1459" width="139" height="66"/></clipPath>
<path clip-path="url(#c20)" d="M1309.32 1453L1387.32 1531M1335.25 1453L1413.25 1531M1361.17 1453L1439.17 1531M1387.1 1453L1465.1 1531M1413.02 1453L1491.02 1531M1438.95 1453L1516.95 1531M1464.88 1453L1542.88 1531M1490.8 1453L1568.8 1531M1516.72 1453L1594.72 1531" stroke="#000" stroke-width="3.5" fill="none" shape-rendering="crispEdges"/>
</g>
<text x="1552" y="1228.8" font-size="65.6">CWPO<tspan font-size="43.95" dy="17.9">HC</tspan></text>
<text x="1552" y="1323.5" font-size="65.6">CWPO<tspan font-size="43.95" dy="18.9">PC</tspan></text>
<text x="1552" y="1418.8" font-size="65.6">CAResin &amp; CWPO<tspan font-size="43.95" dy="18.2">HC</tspan></text>
<text x="1552" y="1513.8" font-size="65.6">CAResin &amp; CWPO<tspan font-size="43.95" dy="18.2">PC</tspan></text>
<text x="355" y="2129.7" font-size="59" text-anchor="middle">0</text>
<text x="732.4" y="2129.7" font-size="59" text-anchor="middle">20</text>
<text x="1109.8" y="2129.7" font-size="59" text-anchor="middle">40</text>
<text x="1487.2" y="2129.7" font-size="59" text-anchor="middle">60</text>
<text x="1864.6" y="2129.7" font-size="59" text-anchor="middle">80</text>
<text x="2242" y="2129.7" font-size="59" text-anchor="middle">100</text>
<text x="1298.6" y="2242.8" font-size="72.4" text-anchor="middle">Abatement (%)</text>
<text x="328.1" y="167.86" font-size="59" text-anchor="end" letter-spacing="1.1">TOC</text>
<text x="326.2" y="389.97" font-size="59" text-anchor="end">COD</text>
<text x="325" y="606.68" font-size="59" text-anchor="end">BOD<tspan font-size="39.53" dy="15.93">5</tspan></text>
<text x="324.4" y="834.19" font-size="59" text-anchor="end">Aromaticity</text>
<text x="326" y="1051.8" font-size="64" text-anchor="end">η<tspan font-size="41" dy="16.1">H</tspan><tspan font-size="28" dy="11.2">2</tspan><tspan font-size="41" dy="-11.2">O</tspan><tspan font-size="28" dy="11.2">2</tspan></text>
<text x="325.6" y="1279.41" font-size="59" text-anchor="end">Chloride</text>
<text x="324.2" y="1500.52" font-size="59" text-anchor="end">Conductivity</text>
<text x="326.5" y="1722.63" font-size="59" text-anchor="end">CN</text>
<text x="324.3" y="1944.74" font-size="59" text-anchor="end" letter-spacing="0.3">Turbidity</text>
</svg>
</body></html>
